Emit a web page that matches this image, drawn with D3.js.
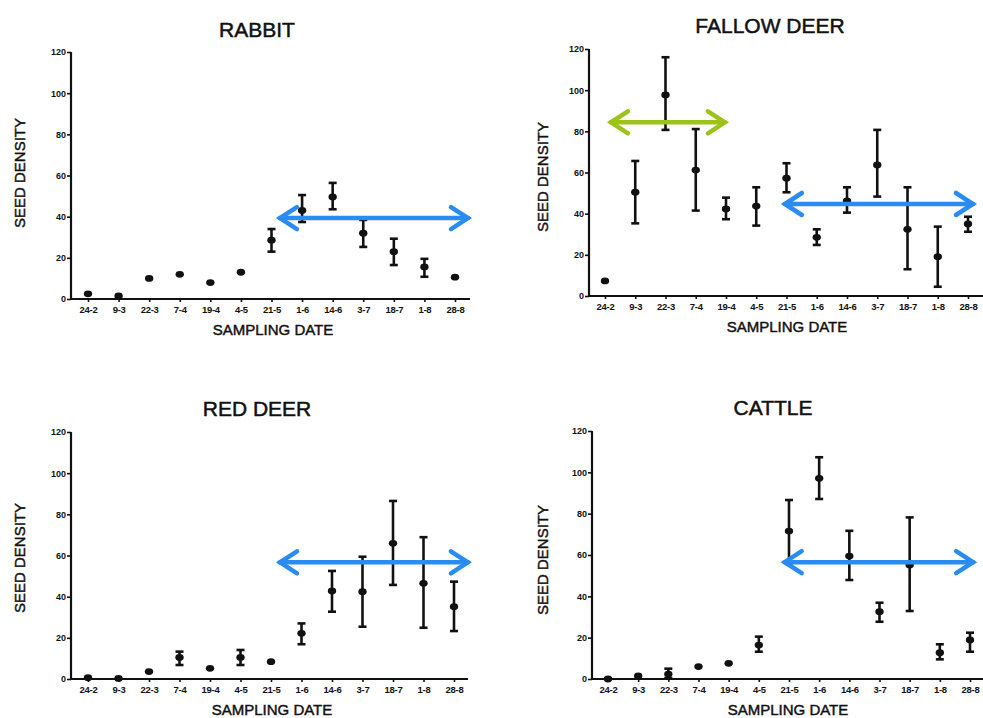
<!DOCTYPE html>
<html>
<head>
<meta charset="utf-8">
<script src="https://cdn.jsdelivr.net/npm/d3@7/dist/d3.min.js"></script>
<style>
  html, body { margin: 0; padding: 0; background: #fff; }
  svg { display: block; font-family: "Liberation Sans", Arial, sans-serif; }
</style>
</head>
<body>
<svg id="chart" width="983" height="718"></svg>
<script>
// Sampling dates shared by all four panels
const dates = ["24-2", "9-3", "22-3", "7-4", "19-4", "4-5", "21-5", "1-6", "14-6", "3-7", "18-7", "1-8", "28-8"];
const yTicks = [0, 20, 40, 60, 80, 100, 120];

// Seed density: mean, upper and lower error limits (null = no bar drawn)
const rabbitMean = [2.5, 1.5, 10, 12, 8, 13, 28.6, 43, 49.6, 32, 23, 15.6, 10.6];
const rabbitHigh = [null, null, null, null, null, null, 34, 50.5, 56.4, 38.4, 29.3, 19.5, null];
const rabbitLow  = [null, null, null, null, null, null, 23, 37.4, 43.6, 25.3, 16.5, 10.8, null];

const fallowMean = [7.3, 50.4, 97.7, 61.2, 42.3, 43.7, 57.2, 28.5, 46.2, 63.7, 32.4, 19.1, 35];
const fallowHigh = [null, 65.6, 116, 81.1, 47.8, 52.8, 64.5, 32.4, 52.8, 80.7, 52.8, 33.7, 38.5];
const fallowLow  = [null, 35.3, 80.7, 41.5, 37.3, 34.2, 50.4, 24.8, 40.5, 48.3, 13, 4.5, 31.2];

const redMean = [0.6, 0.3, 3.6, 10.5, 5.2, 10.5, 8.4, 22.2, 42.8, 42.4, 65.9, 46.5, 35.1];
const redHigh = [null, null, null, 13.3, null, 14.1, null, 27, 52.5, 59.4, 86.5, 68.9, 47.3];
const redLow  = [null, null, null, 6.8, null, 6.8, null, 16.9, 32.7, 25.4, 45.7, 24.9, 23.3];

const cattleMean = [0, 1.5, 2.4, 6, 7.6, 16.4, 71.6, 97.1, 59.5, 32.6, 55.2, 12.7, 18.9];
const cattleHigh = [null, null, 5, null, null, 20.5, 86.6, 107.3, 71.7, 36.9, 78.2, 16.8, 22.4];
const cattleLow  = [null, null, 0.5, null, null, 13.2, 56, 87.1, 47.9, 27.7, 32.9, 9.5, 13.2];

// Period arrows: start / end in sampling-date index units, height in seed density
const rabbitArrowFrom = [6.21], rabbitArrowTo = [12.49], rabbitArrowAt = [39.3];
const fallowArrowFrom = [0.13, 5.88], fallowArrowTo = [4.03, 12.23], fallowArrowAt = [84.4, 44.7];
const redArrowFrom = [6.23], redArrowTo = [12.52], redArrowAt = [56.7];
const cattleArrowFrom = [5.79], cattleArrowTo = [12.17], cattleArrowAt = [56.5];

const BLUE = "#2a8cf2";
const GREEN = "#9cc31a";
const INK = "#111";

const panels = [
  { title: "RABBIT", mean: rabbitMean, hi: rabbitHigh, lo: rabbitLow,
    arrows: { from: rabbitArrowFrom, to: rabbitArrowTo, at: rabbitArrowAt, color: [BLUE] },
    axisX0: 71, axisX1: 470, first: 88, last: 455, y0: 299, yTop: 52,
    titleX: 257, titleY: 37, yLabX: 25, yLabY: 173, xLabX: 273, xLabY: 335 },
  { title: "FALLOW DEER", mean: fallowMean, hi: fallowHigh, lo: fallowLow,
    arrows: { from: fallowArrowFrom, to: fallowArrowTo, at: fallowArrowAt, color: [GREEN, BLUE] },
    axisX0: 589, axisX1: 983, first: 605, last: 968, y0: 296, yTop: 49,
    titleX: 770, titleY: 33, yLabX: 548, yLabY: 177, xLabX: 787, xLabY: 332 },
  { title: "RED DEER", mean: redMean, hi: redHigh, lo: redLow,
    arrows: { from: redArrowFrom, to: redArrowTo, at: redArrowAt, color: [BLUE] },
    axisX0: 71, axisX1: 468, first: 88, last: 454, y0: 679, yTop: 432,
    titleX: 257, titleY: 416, yLabX: 25, yLabY: 558, xLabX: 272, xLabY: 715 },
  { title: "CATTLE", mean: cattleMean, hi: cattleHigh, lo: cattleLow,
    arrows: { from: cattleArrowFrom, to: cattleArrowTo, at: cattleArrowAt, color: [BLUE] },
    axisX0: 592, axisX1: 983, first: 608, last: 970, y0: 679, yTop: 431,
    titleX: 773, titleY: 415, yLabX: 548, yLabY: 560, xLabX: 788, xLabY: 715 }
];

const svg = d3.select("#chart");

panels.forEach(p => {
  const g = svg.append("g");
  const x = d3.scaleLinear().domain([0, dates.length - 1]).range([p.first, p.last]);
  const y = d3.scaleLinear().domain([0, 120]).range([p.y0, p.yTop]);

  // title
  g.append("text")
    .attr("x", p.titleX).attr("y", p.titleY)
    .attr("text-anchor", "middle")
    .attr("font-size", 21)
    .attr("fill", INK).attr("stroke", INK).attr("stroke-width", 0.5)
    .text(p.title);

  // y axis
  const yAxis = g.append("g")
    .attr("transform", `translate(${p.axisX0},0)`)
    .call(d3.axisLeft(y).tickValues(yTicks).tickSize(4).tickSizeOuter(0).tickPadding(1));
  yAxis.select(".domain").remove();
  yAxis.selectAll(".tick line").attr("stroke", INK).attr("stroke-width", 1.6);
  yAxis.selectAll(".tick text")
    .attr("font-size", 9).attr("font-weight", "bold").attr("fill", INK)
    .attr("font-family", "'Liberation Sans', Arial, sans-serif");

  // x axis
  const xAxis = g.append("g")
    .attr("transform", `translate(0,${p.y0})`)
    .call(d3.axisBottom(x).tickValues(d3.range(dates.length))
      .tickFormat(i => dates[i]).tickSize(3).tickSizeOuter(0).tickPadding(4));
  xAxis.select(".domain").remove();
  xAxis.selectAll(".tick line").attr("stroke", INK).attr("stroke-width", 1.6);
  xAxis.selectAll(".tick text")
    .attr("font-size", 9.5).attr("font-weight", "bold").attr("fill", INK)
    .attr("letter-spacing", "-0.3")
    .attr("font-family", "'Liberation Sans', Arial, sans-serif");

  // axis lines
  g.append("line")
    .attr("x1", p.axisX0).attr("x2", p.axisX0)
    .attr("y1", p.y0 + 1).attr("y2", y(120))
    .attr("stroke", INK).attr("stroke-width", 2.2);
  g.append("line")
    .attr("x1", p.axisX0 - 1).attr("x2", p.axisX1)
    .attr("y1", p.y0).attr("y2", p.y0)
    .attr("stroke", INK).attr("stroke-width", 2.2);

  // axis labels
  g.append("text")
    .attr("transform", `translate(${p.yLabX},${p.yLabY}) rotate(-90)`)
    .attr("text-anchor", "middle")
    .attr("font-size", 15)
    .attr("fill", INK).attr("stroke", INK).attr("stroke-width", 0.45)
    .text("SEED DENSITY");
  g.append("text")
    .attr("x", p.xLabX).attr("y", p.xLabY)
    .attr("text-anchor", "middle")
    .attr("font-size", 15)
    .attr("fill", INK).attr("stroke", INK).attr("stroke-width", 0.45)
    .text("SAMPLING DATE");

  // error bars
  const idx = d3.range(dates.length).filter(i => p.hi[i] != null);
  const bars = g.append("g").attr("stroke", INK).attr("stroke-width", 2.6);
  bars.selectAll("line.stem").data(idx).join("line")
    .attr("class", "stem")
    .attr("x1", i => x(i)).attr("x2", i => x(i))
    .attr("y1", i => y(p.hi[i])).attr("y2", i => y(p.lo[i]));
  bars.selectAll("line.capHi").data(idx).join("line")
    .attr("class", "capHi")
    .attr("x1", i => x(i) - 4).attr("x2", i => x(i) + 4)
    .attr("y1", i => y(p.hi[i])).attr("y2", i => y(p.hi[i]));
  bars.selectAll("line.capLo").data(idx).join("line")
    .attr("class", "capLo")
    .attr("x1", i => x(i) - 4).attr("x2", i => x(i) + 4)
    .attr("y1", i => y(p.lo[i])).attr("y2", i => y(p.lo[i]));

  // means
  g.append("g").selectAll("ellipse").data(p.mean).join("ellipse")
    .attr("cx", (d, i) => x(i)).attr("cy", d => y(d))
    .attr("rx", 4.2).attr("ry", 3.4)
    .attr("fill", INK);

  // period arrows
  const a = p.arrows;
  a.from.forEach((f, k) => {
    const x1 = x(f), x2 = x(a.to[k]), yy = y(a.at[k]);
    const ag = g.append("g")
      .attr("stroke", a.color[k]).attr("fill", "none")
      .attr("stroke-width", 4.5).attr("stroke-linecap", "round").attr("stroke-linejoin", "miter");
    ag.append("line").attr("x1", x1 + 2).attr("x2", x2 - 2).attr("y1", yy).attr("y2", yy);
    ag.append("path").attr("d", `M${x1 + 19},${yy - 11} L${x1 + 2},${yy} L${x1 + 19},${yy + 11}`);
    ag.append("path").attr("d", `M${x2 - 19},${yy - 11} L${x2 - 2},${yy} L${x2 - 19},${yy + 11}`);
  });
});
</script>
</body>
</html>
